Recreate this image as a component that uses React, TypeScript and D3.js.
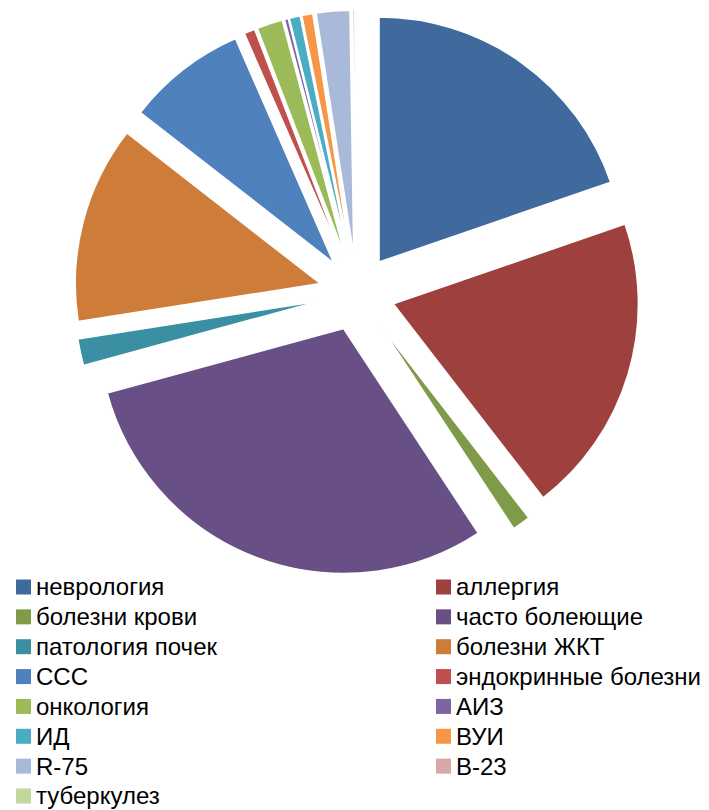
import React from "react";
import * as d3 from "d3";

const categories = [
  "неврология",
  "аллергия",
  "болезни крови",
  "часто болеющие",
  "патология почек",
  "болезни ЖКТ",
  "ССС",
  "эндокринные болезни",
  "онкология",
  "АИЗ",
  "ИД",
  "ВУИ",
  "R-75",
  "В-23",
  "туберкулез",
];

const shares = [19.7, 19.8, 1.2, 30.0, 1.75, 13.0, 7.9, 0.72, 1.7, 0.25, 0.72, 0.72, 2.2, 0.14, 0.11];

const colors = [
  "#40699E",
  "#9E413E",
  "#7F9A48",
  "#685086",
  "#3B8FA3",
  "#CE7C39",
  "#4F81BD",
  "#C0504D",
  "#9BBB59",
  "#8064A2",
  "#4BACC6",
  "#F79646",
  "#A9B9DA",
  "#D9A7A6",
  "#C3D69B",
];

const W = 709;
const H = 810;

export default function App() {
  const cx = 357;
  const cy = 293;
  const r = 245;
  const explode = 38;

  const pie = d3
    .pie<number>()
    .sort(null)
    .value((d) => d);
  const arcs = pie(shares);
  const arc = d3.arc<d3.PieArcDatum<number>>().innerRadius(0).outerRadius(r);

  const rowY = d3.scaleLinear().domain([0, 7]).range([587, 796]);
  const legendRows = d3.range(categories.length).map((i) => ({
    i,
    col: i % 2,
    row: Math.floor(i / 2),
  }));
  const colX = [16, 436];
  const sq = 15;

  return (
    <svg
      width={W}
      height={H}
      style={{ position: "absolute", left: 0, top: 0, background: "#fff" }}
    >
      <g transform={`translate(${cx},${cy})`}>
        {arcs.map((a, i) => {
          const mid = (a.startAngle + a.endAngle) / 2;
          const dx = explode * Math.sin(mid);
          const dy = -explode * Math.cos(mid);
          return (
            <path
              key={i}
              d={arc(a) || ""}
              transform={`translate(${dx},${dy})`}
              fill={colors[i]}
              stroke="#fff"
              strokeWidth={1.5}
              strokeLinejoin="round"
            />
          );
        })}
      </g>
      <g
        style={{
          fontFamily: "'Liberation Sans', sans-serif",
          fontSize: 24,
        }}
      >
        {legendRows.map(({ i, col, row }) => {
          const y = rowY(row);
          return (
            <g key={i}>
              <rect x={colX[col]} y={y - sq / 2} width={sq} height={sq} fill={colors[i]} />
              <text x={colX[col] + sq + 5} y={y} dy="0.35em" fill="#000">
                {categories[i]}
              </text>
            </g>
          );
        })}
      </g>
    </svg>
  );
}
